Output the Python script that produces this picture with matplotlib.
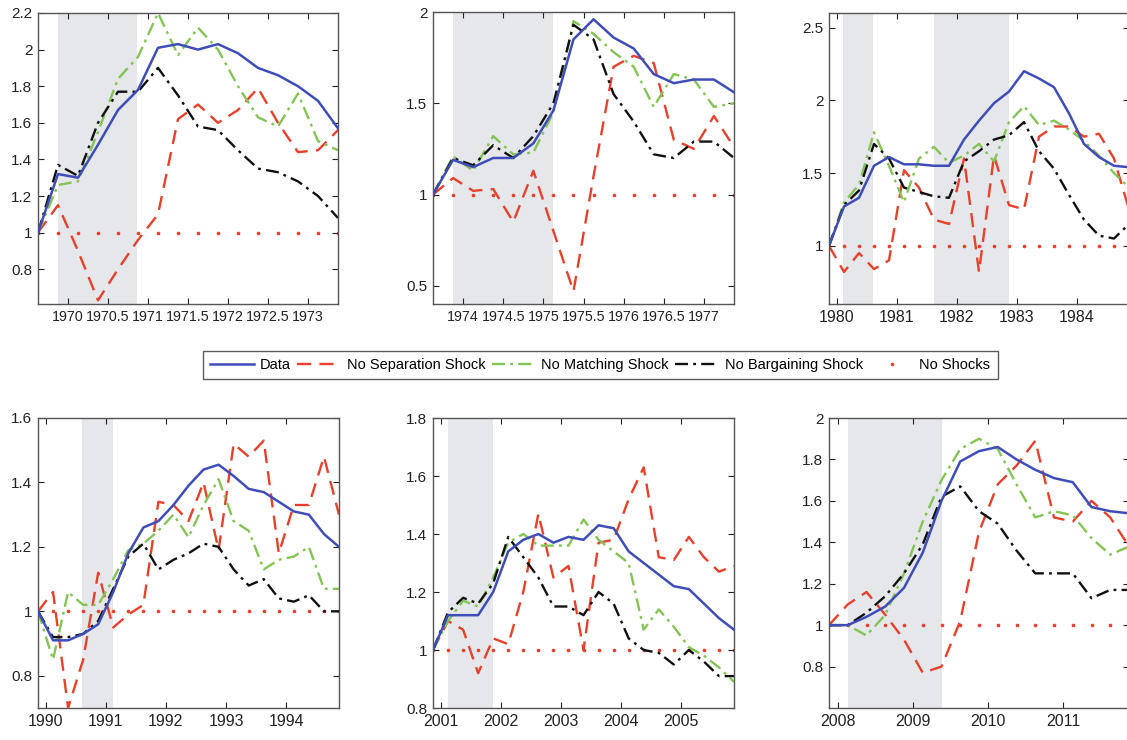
import numpy as np
import matplotlib
matplotlib.use("Agg")
import matplotlib.pyplot as plt

plt.rcParams['font.family'] = ['Liberation Sans', 'DejaVu Sans']

W, H = 1127, 740

# ---------------- data ----------------
# each panel: first quarter (mid-quarter decimal year), values per quarter
p1_start = 1969.625
p1_data = [1.00, 1.32, 1.30, 1.48, 1.67, 1.78, 2.01, 2.03, 2.00, 2.03, 1.98, 1.90, 1.86, 1.80, 1.72, 1.57]
p1_nosep = [1.00, 1.15, 0.90, 0.63, 0.80, 0.96, 1.10, 1.62, 1.70, 1.60, 1.67, 1.79, 1.60, 1.44, 1.45, 1.56]
p1_nomatch = [1.00, 1.26, 1.28, 1.55, 1.84, 1.96, 2.20, 1.97, 2.12, 2.00, 1.80, 1.63, 1.58, 1.76, 1.50, 1.45]
p1_nobarg = [1.00, 1.37, 1.31, 1.60, 1.77, 1.77, 1.90, 1.75, 1.58, 1.56, 1.45, 1.35, 1.33, 1.28, 1.20, 1.08]
p1_rec = [(1969.875, 1970.86)]
p1_xticks = [1970, 1970.5, 1971, 1971.5, 1972, 1972.5, 1973]
p1_yticks = [0.8, 1.0, 1.2, 1.4, 1.6, 1.8, 2.0, 2.2]
p1_ylim = (0.61, 2.2)

p2_start = 1973.625
p2_data = [1.00, 1.19, 1.15, 1.20, 1.20, 1.28, 1.46, 1.85, 1.96, 1.86, 1.80, 1.66, 1.61, 1.63, 1.63, 1.56]
p2_nosep = [1.00, 1.09, 1.02, 1.03, 0.85, 1.13, 0.80, 0.47, 1.10, 1.70, 1.76, 1.72, 1.30, 1.25, 1.43, 1.26]
p2_nomatch = [1.00, 1.21, 1.13, 1.32, 1.22, 1.23, 1.45, 1.95, 1.88, 1.78, 1.70, 1.48, 1.66, 1.63, 1.48, 1.50]
p2_nobarg = [1.00, 1.20, 1.16, 1.27, 1.20, 1.32, 1.50, 1.93, 1.85, 1.55, 1.40, 1.22, 1.20, 1.29, 1.29, 1.20]
p2_rec = [(1973.875, 1975.125)]
p2_xticks = [1974, 1974.5, 1975, 1975.5, 1976, 1976.5, 1977]
p2_yticks = [0.5, 1.0, 1.5, 2.0]
p2_ylim = (0.4, 2.0)

p3_start = 1979.875
p3_data = [1.00, 1.27, 1.33, 1.55, 1.61, 1.56, 1.56, 1.55, 1.55, 1.73, 1.86, 1.98, 2.06, 2.20, 2.15, 2.09, 1.91, 1.70, 1.61, 1.55, 1.54]
p3_nosep = [1.00, 0.82, 0.95, 0.84, 0.90, 1.52, 1.40, 1.18, 1.15, 1.60, 0.82, 1.62, 1.28, 1.25, 1.75, 1.82, 1.82, 1.75, 1.77, 1.60, 1.25]
p3_nomatch = [1.00, 1.30, 1.42, 1.78, 1.55, 1.30, 1.60, 1.68, 1.57, 1.62, 1.70, 1.58, 1.85, 1.96, 1.83, 1.86, 1.80, 1.72, 1.62, 1.50, 1.40]
p3_nobarg = [1.00, 1.28, 1.38, 1.70, 1.60, 1.40, 1.37, 1.34, 1.33, 1.58, 1.65, 1.73, 1.76, 1.85, 1.65, 1.53, 1.35, 1.18, 1.07, 1.05, 1.15]
p3_rec = [(1980.11, 1980.61), (1981.625, 1982.875)]
p3_xticks = [1980, 1981, 1982, 1983, 1984]
p3_yticks = [1.0, 1.5, 2.0, 2.5]
p3_ylim = (0.6, 2.6)

p4_start = 1989.875
p4_data = [1.00, 0.91, 0.91, 0.93, 0.96, 1.06, 1.18, 1.26, 1.28, 1.33, 1.39, 1.44, 1.455, 1.42, 1.38, 1.37, 1.34, 1.31, 1.30, 1.24, 1.20]
p4_nosep = [1.00, 1.06, 0.70, 0.85, 1.12, 0.95, 0.99, 1.02, 1.34, 1.33, 1.28, 1.40, 1.19, 1.52, 1.48, 1.53, 1.18, 1.33, 1.33, 1.48, 1.30]
p4_nomatch = [1.00, 0.85, 1.06, 1.02, 1.02, 1.10, 1.19, 1.21, 1.25, 1.30, 1.23, 1.33, 1.41, 1.28, 1.25, 1.13, 1.16, 1.17, 1.20, 1.07, 1.07]
p4_nobarg = [1.00, 0.92, 0.92, 0.93, 0.97, 1.07, 1.17, 1.21, 1.13, 1.16, 1.18, 1.21, 1.20, 1.13, 1.08, 1.10, 1.04, 1.03, 1.05, 1.00, 1.00]
p4_rec = [(1990.61, 1991.125)]
p4_xticks = [1990, 1991, 1992, 1993, 1994]
p4_yticks = [0.8, 1.0, 1.2, 1.4, 1.6]
p4_ylim = (0.7, 1.6)

p5_start = 2000.875
p5_data = [1.00, 1.12, 1.12, 1.12, 1.20, 1.34, 1.38, 1.40, 1.37, 1.39, 1.38, 1.43, 1.42, 1.34, 1.30, 1.26, 1.22, 1.21, 1.16, 1.11, 1.07]
p5_nosep = [1.00, 1.10, 1.07, 0.92, 1.04, 1.02, 1.20, 1.47, 1.25, 1.29, 1.00, 1.37, 1.38, 1.52, 1.63, 1.32, 1.31, 1.39, 1.32, 1.27, 1.29]
p5_nomatch = [1.00, 1.10, 1.17, 1.15, 1.25, 1.37, 1.40, 1.36, 1.36, 1.36, 1.45, 1.38, 1.34, 1.30, 1.07, 1.14, 1.08, 1.01, 0.98, 0.94, 0.89]
p5_nobarg = [1.00, 1.13, 1.18, 1.16, 1.23, 1.39, 1.32, 1.25, 1.15, 1.15, 1.12, 1.20, 1.16, 1.04, 1.00, 0.99, 0.95, 1.00, 0.96, 0.91, 0.91]
p5_rec = [(2001.125, 2001.875)]
p5_xticks = [2001, 2002, 2003, 2004, 2005]
p5_yticks = [0.8, 1.0, 1.2, 1.4, 1.6, 1.8]
p5_ylim = (0.8, 1.8)

p6_start = 2007.875
p6_data = [1.00, 1.00, 1.04, 1.09, 1.18, 1.35, 1.60, 1.79, 1.84, 1.86, 1.80, 1.75, 1.71, 1.69, 1.57, 1.55, 1.54]
p6_nosep = [1.00, 1.10, 1.16, 1.05, 0.93, 0.77, 0.80, 1.02, 1.45, 1.68, 1.77, 1.89, 1.52, 1.50, 1.60, 1.52, 1.38]
p6_nomatch = [1.00, 1.00, 0.95, 1.05, 1.25, 1.50, 1.70, 1.85, 1.90, 1.85, 1.68, 1.52, 1.55, 1.53, 1.42, 1.34, 1.38]
p6_nobarg = [1.00, 1.00, 1.06, 1.14, 1.25, 1.39, 1.62, 1.67, 1.55, 1.49, 1.36, 1.25, 1.25, 1.25, 1.13, 1.17, 1.17]
p6_rec = [(2008.125, 2009.375)]
p6_xticks = [2008, 2009, 2010, 2011]
p6_yticks = [0.8, 1.0, 1.2, 1.4, 1.6, 1.8, 2.0]
p6_ylim = (0.6, 2.0)

no_shock_level = 1.0

series_labels = ["Data", "No Separation Shock", "No Matching Shock",
                 "No Bargaining Shock", "No Shocks"]

panels = [
    (p1_start, p1_data, p1_nosep, p1_nomatch, p1_nobarg, p1_rec, p1_xticks, p1_yticks, p1_ylim),
    (p2_start, p2_data, p2_nosep, p2_nomatch, p2_nobarg, p2_rec, p2_xticks, p2_yticks, p2_ylim),
    (p3_start, p3_data, p3_nosep, p3_nomatch, p3_nobarg, p3_rec, p3_xticks, p3_yticks, p3_ylim),
    (p4_start, p4_data, p4_nosep, p4_nomatch, p4_nobarg, p4_rec, p4_xticks, p4_yticks, p4_ylim),
    (p5_start, p5_data, p5_nosep, p5_nomatch, p5_nobarg, p5_rec, p5_xticks, p5_yticks, p5_ylim),
    (p6_start, p6_data, p6_nosep, p6_nomatch, p6_nobarg, p6_rec, p6_xticks, p6_yticks, p6_ylim),
]

# axes pixel boxes: (left, top, right, bottom)
boxes = [
    (38, 13, 338, 304),
    (433, 12, 734, 304),
    (829, 13, 1129, 304),
    (38, 418, 339, 708),
    (433, 418, 734, 708),
    (829, 418, 1129, 708),
]
xtick_sizes = [10.3, 10.3, 11.5, 11.5, 11.5, 11.5]
ytick_size = 11

c_blue = '#3f4db8'
c_red = '#e8402a'
c_green = '#84c455'
c_black = '#111111'
c_shade = '#e5e7ea'

fig = plt.figure(figsize=(W / 100, H / 100), dpi=100)
fig.patch.set_facecolor('white')

handles = None
for (start, d, ns, nm, nb, rec, xt, yt, yl), (l, t, r, b), xfs in zip(panels, boxes, xtick_sizes):
    ax = fig.add_axes([l / W, 1 - b / H, (r - l) / W, (b - t) / H])
    x = start + 0.25 * np.arange(len(d))
    for a0, a1 in rec:
        ax.axvspan(a0, a1, color=c_shade, lw=0, zorder=0)
    h1, = ax.plot(x, d, color=c_blue, lw=1.8, zorder=3)
    h2, = ax.plot(x, ns, color=c_red, lw=1.7, dashes=(6, 3.5), zorder=2)
    h3, = ax.plot(x, nm, color=c_green, lw=1.7, dashes=(5.5, 2.2, 1.2, 2.2), zorder=2)
    h4, = ax.plot(x, nb, color=c_black, lw=1.7, dashes=(5.5, 2.2, 1.2, 2.2), zorder=2)
    h5, = ax.plot(x, [no_shock_level] * len(x), ls='none', marker='.', ms=3.2,
                  color=c_red, zorder=1)
    if handles is None:
        handles = [h1, h2, h3, h4, h5]
    ax.set_xlim(x[0], x[-1])
    ax.set_ylim(*yl)
    ax.set_xticks(xt)
    ax.set_xticklabels(['%g' % v for v in xt])
    ax.set_yticks(yt)
    ax.set_yticklabels(['%g' % v for v in yt])
    ax.tick_params(direction='in', top=True, right=True, length=4, width=0.8,
                   colors='#222222', pad=4)
    ax.tick_params(axis='x', labelsize=xfs)
    ax.tick_params(axis='y', labelsize=ytick_size)
    for s in ax.spines.values():
        s.set_color('#555555')
        s.set_linewidth(1.0)

fig.legend(handles, series_labels, loc='center',
           bbox_to_anchor=(600 / W, 1 - 365 / H), ncol=5, frameon=True,
           fancybox=False, edgecolor='#333333', fontsize=10.5,
           handlelength=3.0, handletextpad=0.4, columnspacing=0.45,
           borderpad=0.5, borderaxespad=0.0)

fig.savefig('out.png', dpi=100)
